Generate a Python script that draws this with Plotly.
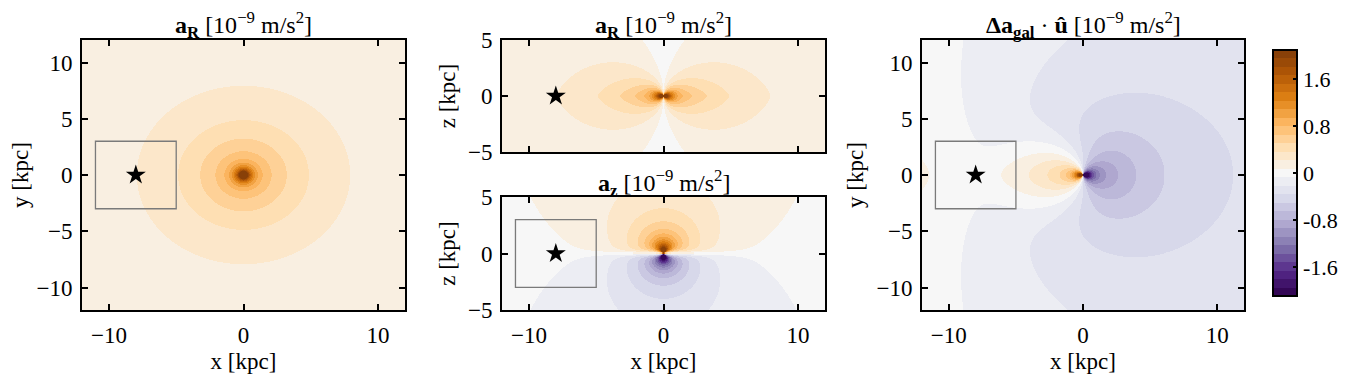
import numpy as np
import plotly.graph_objects as go

# ---------------- data: Galactic mass model (kpc, km/s, Msun) ----------------
G_KPC = 4.30091e-6                  # kpc (km/s)^2 / Msun
TO_NMS2 = 1e6 / 3.0857e19 / 1e-9    # (km/s)^2/kpc -> 1e-9 m/s^2

bulge_mass = 1.2e10
bulge_scale = 0.6
disk_mass = 5.8e10
disk_scale_a = 3.0
disk_scale_b = 0.28
halo_scale = 16.0
v_circ_sun = 230.0                  # km/s at the Sun

sun_x = [-8.0]
sun_y = [0.0]
box_x = [-11.0, -5.0]
box_y = [-3.0, 3.0]

xy_range = [-12, 12]
z_range = [-5, 5]
x_ticks = [-10, 0, 10]
y_ticks = [-10, -5, 0, 5, 10]
z_ticks = [-5, 0, 5]

cbar_range = [-2.09, 2.09]
n_bands = 29
cbar_tickvals = [-1.6, -0.8, 0, 0.8, 1.6]
cbar_ticktext = ["-1.6", "-0.8", "0", "0.8", "1.6"]

grid_nx, grid_ny, grid_nz = 324, 270, 112

# PuOr (ColorBrewer) nodes, used reversed
puor_nodes = ["#7f3b08", "#b35806", "#e08214", "#fdb863", "#fee0b6", "#f7f7f7",
              "#d8daeb", "#b2abd2", "#8073ac", "#542788", "#2d004b"]


def _acc(x, y, z, halo_m0):
    r = np.sqrt(x * x + y * y + z * z)
    R2 = x * x + y * y
    ab = -G_KPC * bulge_mass / (r * (r + bulge_scale) ** 2)
    ax, ay, az = ab * x, ab * y, ab * z
    sz = np.sqrt(z * z + disk_scale_b ** 2)
    d3 = (R2 + (disk_scale_a + sz) ** 2) ** 1.5
    ax = ax - G_KPC * disk_mass * x / d3
    ay = ay - G_KPC * disk_mass * y / d3
    az = az - G_KPC * disk_mass * z * (disk_scale_a + sz) / (sz * d3)
    s = r / halo_scale
    mh = halo_m0 * (np.log1p(s) - s / (1 + s))
    ah = -G_KPC * mh / r ** 3
    ax, ay, az = ax + ah * x, ay + ah * y, az + ah * z
    return ax * TO_NMS2, ay * TO_NMS2, az * TO_NMS2


# halo normalisation from the circular speed at the Sun
_ax0, _, _ = _acc(np.array([sun_x[0]]), np.array([1e-9]), np.array([0.0]), 0.0)
_need = v_circ_sun ** 2 / abs(sun_x[0]) * TO_NMS2 - abs(_ax0[0])
_s = abs(sun_x[0]) / halo_scale
halo_m0 = _need / TO_NMS2 * sun_x[0] ** 2 / G_KPC / (np.log1p(_s) - _s / (1 + _s))


def centers(lo, hi, n):
    h = (hi - lo) / n
    return np.linspace(lo + h / 2, hi - h / 2, n)


xs = centers(*xy_range, grid_nx)
ys = centers(*xy_range, grid_ny)
zs = centers(*z_range, grid_nz)

# panel 1: a_R in the x-y plane
X, Y = np.meshgrid(xs, ys)
ax, ay, _ = _acc(X, Y, np.zeros_like(X), halo_m0)
R = np.sqrt(X ** 2 + Y ** 2)
aR_xy = -(ax * X + ay * Y) / R

# panel 3: (a - a_sun) . u_hat
axs, ays, _ = _acc(np.array([sun_x[0]]), np.array([sun_y[0] + 1e-9]), np.array([0.0]), halo_m0)
dx, dy = X - sun_x[0], Y - sun_y[0]
dist = np.sqrt(dx ** 2 + dy ** 2)
da_u = ((ax - axs[0]) * dx + (ay - ays[0]) * dy) / dist

# panel 2: x-z plane
XZ, ZZ = np.meshgrid(xs, zs)
axz, _, azz = _acc(XZ, np.zeros_like(XZ) + 1e-9, ZZ, halo_m0)
aR_xz = -axz * np.sign(XZ)
az_xz = -azz

# ---------------- styling ----------------
PAGE_OFF = 8                      # default body margin of the html page
W, H = 1348 - PAGE_OFF, 377 - PAGE_OFF
FONT = "Liberation Serif"


def hex2rgb(h):
    return np.array([int(h[i:i + 2], 16) for i in (1, 3, 5)], float)


nodes = [hex2rgb(c) for c in puor_nodes[::-1]]


def cmap(t):
    p = t * (len(nodes) - 1)
    i = min(int(np.floor(p)), len(nodes) - 2)
    f = p - i
    c = nodes[i] * (1 - f) + nodes[i + 1] * f
    return "rgb(%d,%d,%d)" % tuple(np.round(c))


colorscale = []
for i in range(n_bands):
    c = cmap((i + 0.5) / n_bands)
    colorscale.append([i / n_bands, c])
    colorscale.append([(i + 1) / n_bands, c])


def px_x(p):
    return (p - PAGE_OFF) / W


def px_y(p):
    return 1 - (p - PAGE_OFF) / H


def xdom(l, r):
    return [px_x(l), px_x(r)]


def ydom(t, b):
    return [px_y(b), px_y(t)]


fig = go.Figure()

panels = [
    (xs, ys, aR_xy, "x", "y"),
    (xs, zs, aR_xz, "x2", "y2"),
    (xs, zs, az_xz, "x3", "y3"),
    (xs, ys, da_u, "x4", "y4"),
]
for px, py, pz, xa, ya in panels:
    fig.add_trace(go.Heatmap(x=px, y=py, z=pz.astype(np.float32), coloraxis="coloraxis",
                             xaxis=xa, yaxis=ya, zsmooth=False, hoverinfo="skip"))
    fig.add_trace(go.Scatter(x=sun_x, y=sun_y, mode="markers", xaxis=xa, yaxis=ya,
                             marker=dict(symbol="star", size=15, color="black"),
                             showlegend=False, hoverinfo="skip"))

for xa, ya in [("x", "y"), ("x3", "y3"), ("x4", "y4")]:
    fig.add_shape(type="rect", xref=xa, yref=ya, x0=box_x[0], x1=box_x[1],
                  y0=box_y[0], y1=box_y[1], line=dict(color="#7a7a7a", width=1.3))

axis_common = dict(showline=True, linecolor="black", linewidth=2, mirror="ticks",
                   ticks="inside", ticklen=6, tickwidth=1.5, tickcolor="black",
                   showgrid=False, zeroline=False, automargin=False,
                   ticklabelstandoff=3,
                   tickfont=dict(family=FONT, size=23, color="black"),
                   title_font=dict(family=FONT, size=23, color="black"))

fig.update_layout(
    width=W, height=H, margin=dict(l=0, r=0, t=0, b=0, autoexpand=False), autosize=False,
    paper_bgcolor="white", plot_bgcolor="white", showlegend=False,
    coloraxis=dict(colorscale=colorscale, cmin=cbar_range[0], cmax=cbar_range[1],
                   colorbar=dict(x=px_x(1273), xanchor="left", y=px_y(173), yanchor="middle",
                                 len=246 / H, lenmode="fraction", thickness=24,
                                 xpad=0, ypad=0, outlinewidth=2, outlinecolor="black",
                                 ticks="inside", ticklen=5, tickwidth=2, tickcolor="black",
                                 tickvals=cbar_tickvals, ticktext=cbar_ticktext,
                                 tickfont=dict(family=FONT, size=22, color="black"))),
    xaxis=dict(domain=xdom(82, 405), anchor="y", range=xy_range, tickvals=x_ticks,
               title=dict(text="x [kpc]", standoff=6), **axis_common),
    yaxis=dict(domain=ydom(40, 310), anchor="x", range=xy_range, tickvals=y_ticks,
               title=dict(text="y [kpc]", standoff=6), **axis_common),
    xaxis2=dict(domain=xdom(502, 825), anchor="y2", range=xy_range, tickvals=x_ticks,
                showticklabels=False, **axis_common),
    yaxis2=dict(domain=ydom(40, 152), anchor="x2", range=z_range, tickvals=z_ticks,
                title=dict(text="z [kpc]", standoff=6), **axis_common),
    xaxis3=dict(domain=xdom(502, 825), anchor="y3", range=xy_range, tickvals=x_ticks,
                title=dict(text="x [kpc]", standoff=6), **axis_common),
    yaxis3=dict(domain=ydom(197, 310), anchor="x3", range=z_range, tickvals=z_ticks,
                title=dict(text="z [kpc]", standoff=6), **axis_common),
    xaxis4=dict(domain=xdom(922, 1244), anchor="y4", range=xy_range, tickvals=x_ticks,
                title=dict(text="x [kpc]", standoff=6), **axis_common),
    yaxis4=dict(domain=ydom(40, 310), anchor="x4", range=xy_range, tickvals=y_ticks,
                title=dict(text="y [kpc]", standoff=6), **axis_common),
)

unit = " [10<sup>−9</sup> m/s<sup>2</sup>]"
titles = [
    ("<b>a</b><sub><b>R</b></sub>" + unit, (82 + 405) / 2, 25),
    ("<b>a</b><sub><b>R</b></sub>" + unit, (502 + 825) / 2, 25),
    ("<b>a</b><sub><b>z</b></sub>" + unit, (502 + 825) / 2, 183),
    ("<b>Δa</b><sub><b>gal</b></sub> · <b>û</b>" + unit, (922 + 1244) / 2, 25),
]
for text, cx, cy in titles:
    fig.add_annotation(text=text, x=px_x(cx), y=px_y(cy), xref="paper", yref="paper",
                       xanchor="center", yanchor="middle", showarrow=False,
                       font=dict(family=FONT, size=24, color="black"))

fig.write_html("out.html")
